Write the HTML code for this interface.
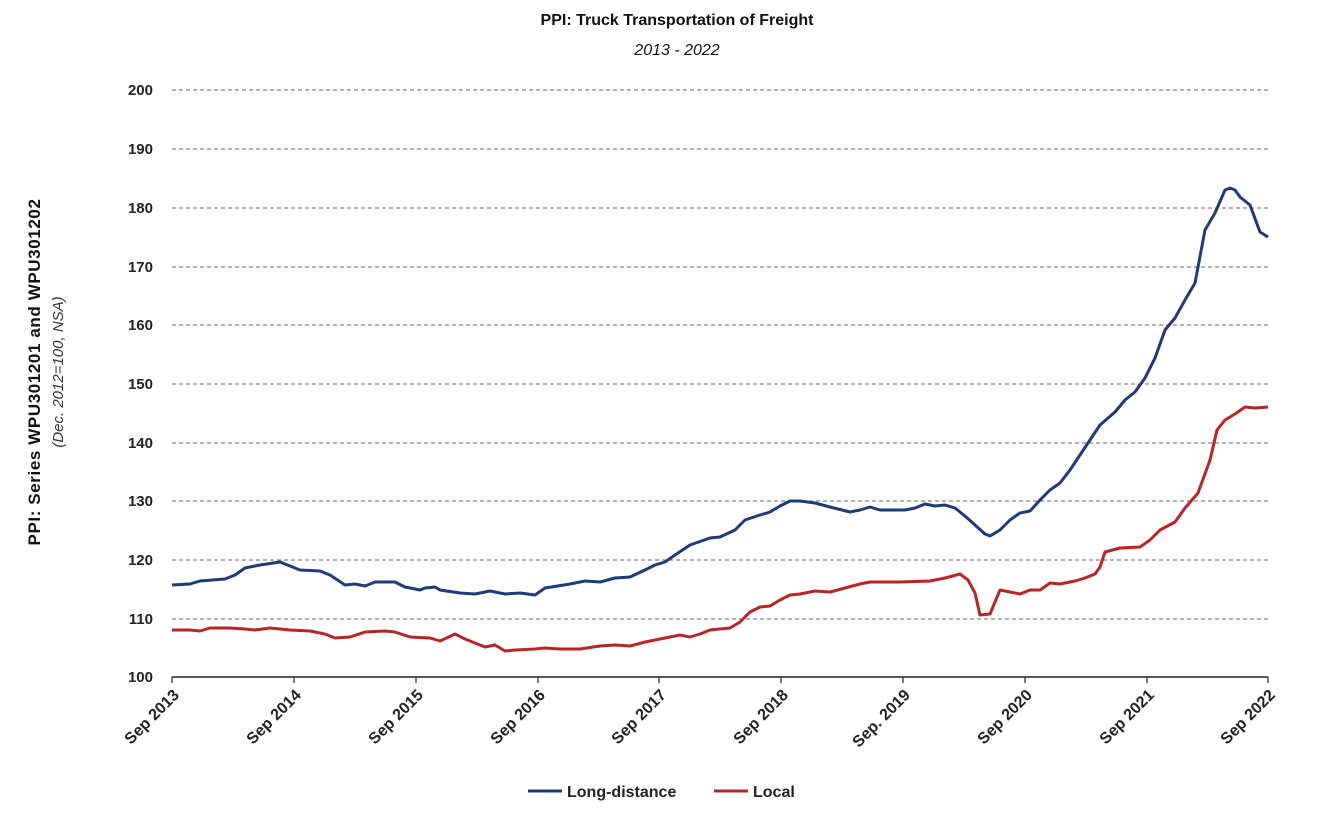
<!DOCTYPE html>
<html><head><meta charset="utf-8"><style>
html,body{margin:0;padding:0;background:#fff;}
svg{display:block;font-family:"Liberation Sans",sans-serif;}
</style></head><body>
<svg width="1330" height="814" viewBox="0 0 1330 814" xmlns="http://www.w3.org/2000/svg">
<text x="677" y="25" text-anchor="middle" font-size="16" font-weight="bold" fill="#111">PPI: Truck Transportation of Freight</text>
<text x="677" y="55" text-anchor="middle" font-size="16" font-style="italic" fill="#111">2013 - 2022</text>
<g stroke="#666" stroke-width="1" stroke-dasharray="4,3">
<line x1="172" y1="90" x2="1268" y2="90"/><line x1="172" y1="149" x2="1268" y2="149"/>
<line x1="172" y1="208" x2="1268" y2="208"/><line x1="172" y1="267" x2="1268" y2="267"/>
<line x1="172" y1="325" x2="1268" y2="325"/><line x1="172" y1="384" x2="1268" y2="384"/>
<line x1="172" y1="443" x2="1268" y2="443"/><line x1="172" y1="501" x2="1268" y2="501"/>
<line x1="172" y1="560" x2="1268" y2="560"/><line x1="172" y1="619" x2="1268" y2="619"/>
</g>
<line x1="172" y1="677" x2="1268" y2="677" stroke="#222" stroke-width="1.5"/>
<g stroke="#222" stroke-width="1.2">
<line x1="172" y1="677" x2="172" y2="683"/><line x1="294" y1="677" x2="294" y2="683"/><line x1="416" y1="677" x2="416" y2="683"/><line x1="538" y1="677" x2="538" y2="683"/><line x1="659" y1="677" x2="659" y2="683"/><line x1="781" y1="677" x2="781" y2="683"/><line x1="903" y1="677" x2="903" y2="683"/><line x1="1025" y1="677" x2="1025" y2="683"/><line x1="1147" y1="677" x2="1147" y2="683"/><line x1="1268" y1="677" x2="1268" y2="683"/>
</g>
<g font-size="15" font-weight="bold" fill="#222" text-anchor="end">
<text x="153" y="95">200</text><text x="153" y="154">190</text><text x="153" y="213">180</text><text x="153" y="272">170</text><text x="153" y="330">160</text><text x="153" y="389">150</text><text x="153" y="448">140</text><text x="153" y="506">130</text><text x="153" y="565">120</text><text x="153" y="624">110</text><text x="153" y="682">100</text>
</g>
<g font-size="16" font-weight="bold" fill="#222" text-anchor="end">
<text transform="translate(180,696) rotate(-45)">Sep 2013</text>
<text transform="translate(302,696) rotate(-45)">Sep 2014</text>
<text transform="translate(424,696) rotate(-45)">Sep 2015</text>
<text transform="translate(546,696) rotate(-45)">Sep 2016</text>
<text transform="translate(667,696) rotate(-45)">Sep 2017</text>
<text transform="translate(789,696) rotate(-45)">Sep 2018</text>
<text transform="translate(911,696) rotate(-45)">Sep. 2019</text>
<text transform="translate(1033,696) rotate(-45)">Sep 2020</text>
<text transform="translate(1155,696) rotate(-45)">Sep 2021</text>
<text transform="translate(1276,696) rotate(-45)">Sep 2022</text>
</g>
<text transform="translate(40,372) rotate(-90)" text-anchor="middle" font-size="17" font-weight="bold" letter-spacing="0.6" fill="#111">PPI: Series WPU301201 and WPU301202</text>
<text transform="translate(63,372) rotate(-90)" text-anchor="middle" font-size="15" font-style="italic" fill="#333">(Dec. 2012=100, NSA)</text>
<polyline fill="none" stroke="#1f3a7a" stroke-width="3" stroke-linejoin="round" points="172,585 190,584 200,581 225,579 235,575 245,568 260,565 280,562 290,566 300,570 320,571 330,575 345,585 355,584 365,586 375,582 395,582 405,587 420,590 425,588 435,587 440,590 460,593 475,594 490,591 505,594 520,593 535,595 545,588 570,584 585,581 600,582 615,578 630,577 645,570 655,565 665,562 675,555 690,545 710,538 720,537 735,530 745,520 760,515 770,512 780,506 790,501 800,501 815,503 830,507 850,512 860,510 870,507 880,510 895,510 905,510 915,508 925,504 935,506 945,505 955,508 965,516 975,525 985,534 990,536 1000,530 1010,520 1020,513 1030,511 1040,500 1050,490 1060,483 1070,470 1080,455 1090,440 1100,425 1115,412 1125,400 1135,392 1145,378 1155,358 1165,330 1175,318 1185,300 1195,283 1205,230 1215,213 1225,190 1230,188 1235,190 1240,197 1250,205 1260,232 1268,237"/>
<polyline fill="none" stroke="#b82525" stroke-width="3" stroke-linejoin="round" points="172,630 190,630 200,631 210,628 230,628 245,629 255,630 270,628 290,630 310,631 325,634 335,638 350,637 365,632 385,631 395,632 410,637 430,638 440,641 455,634 465,639 475,643 485,647 495,645 505,651 515,650 535,649 545,648 560,649 580,649 600,646 615,645 630,646 645,642 655,640 670,637 680,635 690,637 700,634 710,630 730,628 740,622 750,612 760,607 770,606 780,600 790,595 800,594 815,591 830,592 845,588 860,584 870,582 900,582 930,581 945,578 960,574 968,580 975,593 980,615 990,614 1000,590 1010,592 1020,594 1030,590 1040,590 1050,583 1060,584 1075,581 1085,578 1095,574 1100,567 1105,552 1120,548 1140,547 1150,540 1160,530 1175,522 1185,508 1198,493 1210,460 1217,430 1225,420 1235,414 1245,407 1255,408 1268,407"/>
<line x1="528" y1="791" x2="562" y2="791" stroke="#1f3a7a" stroke-width="3"/>
<text x="567" y="797" font-size="16" font-weight="bold" fill="#222">Long-distance</text>
<line x1="714" y1="791" x2="748" y2="791" stroke="#b82525" stroke-width="3"/>
<text x="753" y="797" font-size="16" font-weight="bold" fill="#222">Local</text>
</svg>
</body></html>
